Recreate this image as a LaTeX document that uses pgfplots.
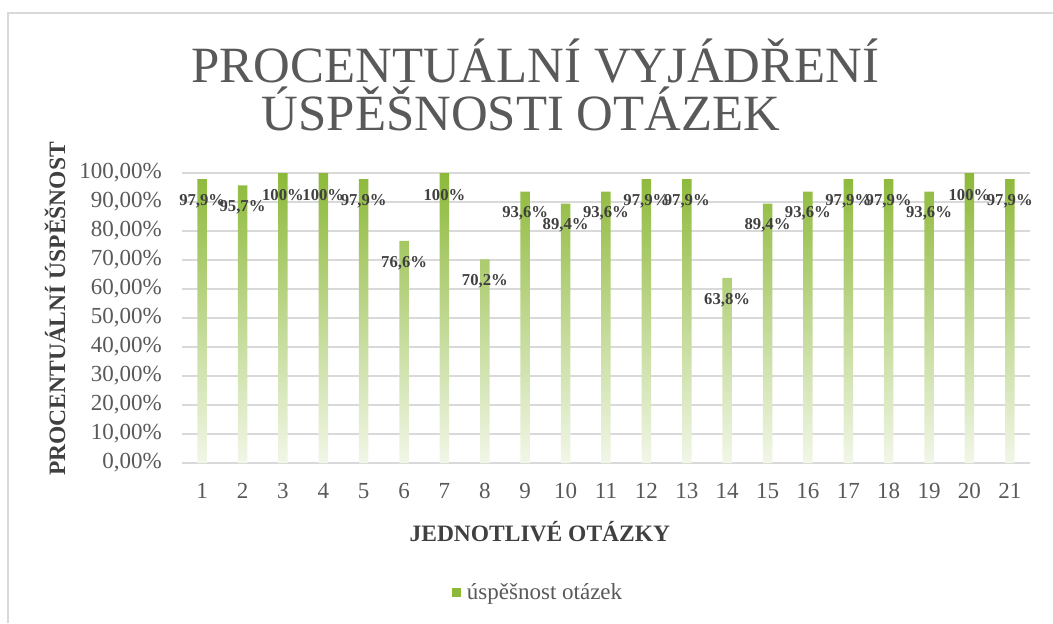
\documentclass[border=0pt]{standalone}
\usepackage{fontspec}
\setmainfont{Liberation Serif}
\usepackage{pgfplots}
\pgfplotsset{compat=1.18}
\usepackage{pgfplotstable}
\definecolor{barG}{RGB}{141,185,57}
\definecolor{txt}{RGB}{89,89,89}
\definecolor{lbl}{RGB}{64,64,64}
\definecolor{grd}{RGB}{217,217,217}
\pgfplotstableread{
q val lab
1 97.9 97,9
2 95.7 95,7
3 100 100
4 100 100
5 97.9 97,9
6 76.6 76,6
7 100 100
8 70.2 70,2
9 93.6 93,6
10 89.4 89,4
11 93.6 93,6
12 97.9 97,9
13 97.9 97,9
14 63.8 63,8
15 89.4 89,4
16 93.6 93,6
17 97.9 97,9
18 97.9 97,9
19 93.6 93,6
20 100 100
21 97.9 97,9
}\datatab
\begin{document}
\begin{tikzpicture}
\begin{scope}[x=0.6pt,y=0.6pt]
\path[use as bounding box] (0,0) rectangle (1053,623);
\draw[grd, line width=0.9pt] (8,0) -- (8,610) -- (1053,610);
\node[anchor=base, text=txt, inner sep=0pt, font=\fontsize{30.5}{30}\selectfont] at (535.5,540) {PROCENTUÁLNÍ VYJÁDŘENÍ};
\node[anchor=base, text=txt, inner sep=0pt, font=\fontsize{30.5}{30}\selectfont] at (521,492) {ÚSPĚŠNOSTI OTÁZEK};
\end{scope}
\begin{axis}[
  at={(109.2pt,96pt)}, anchor=south west,
  scale only axis, width=508.8pt, height=174pt,
  xmin=0.5, xmax=21.5, ymin=0, ymax=100,
  xtick={1,...,21}, ytick={0,10,...,100},
  yticklabels={{0,00\%},{10,00\%},{20,00\%},{30,00\%},{40,00\%},{50,00\%},{60,00\%},{70,00\%},{80,00\%},{90,00\%},{100,00\%}},
  /pgf/number format/assume math mode=true,
  axis line style={draw=none},
  major tick length=0pt,
  ymajorgrids, grid style={grd, line width=0.9pt},
  ticklabel style={text=txt, font=\fontsize{13.8}{14}\selectfont},
  yticklabel style={inner sep=0pt, xshift=-12pt},
  xticklabel style={inner sep=0pt, yshift=-12pt},
  xlabel={JEDNOTLIVÉ OTÁZKY},
  ylabel={PROCENTUÁLNÍ ÚSPĚŠNOST},
  label style={text=lbl, font=\bfseries\fontsize{14.1}{15}\selectfont},
  xlabel style={at={(axis description cs:0.422,-0.238)}, anchor=center, inner sep=0pt},
  ylabel style={at={(axis description cs:-0.1498,0.531)}, anchor=center, rotate=0, inner sep=0pt},
  legend style={at={(axis description cs:0.318,-0.448)}, anchor=west, draw=none, inner sep=0pt, column sep=3.6pt,
    font=\fontsize{13.8}{14}\selectfont, text=txt, nodes={inner sep=0pt}},
  legend image code/.code={\pgfsetfillcolor{barG}\pgfpathrectangle{\pgfpoint{0pt}{-2.7pt}}{\pgfpoint{5.4pt}{5.4pt}}\pgfusepath{fill}},
  clip=false,
]
\addplot[ybar, bar width=5.7pt, draw=none, top color=barG, middle color=barG!92!white, bottom color=barG!12!white,
  point meta=explicit symbolic,
  nodes near coords={\pgfplotspointmeta\%},
  every node near coord/.append style={anchor=center, yshift=-13.2pt, text=lbl, font=\bfseries\fontsize{10}{11}\selectfont, inner sep=0pt}]
  table[x=q, y=val, meta=lab] {\datatab};
\addlegendentry{úspěšnost otázek}
\end{axis}
\end{tikzpicture}
\end{document}
